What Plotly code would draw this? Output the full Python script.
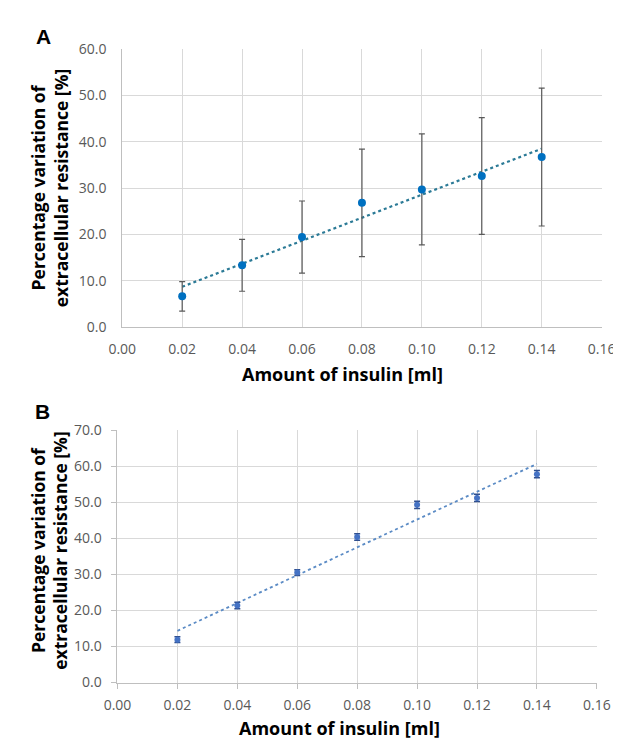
import numpy as np
import plotly.graph_objects as go

W, H = 621, 743

# ---- data ----
insulin_ml = [0.02, 0.04, 0.06, 0.08, 0.10, 0.12, 0.14]
variation_a = [6.6, 13.3, 19.4, 26.8, 29.7, 32.6, 36.7]
error_a = [3.2, 5.6, 7.8, 11.6, 12.0, 12.6, 14.9]
variation_b = [11.9, 21.4, 30.5, 40.4, 49.3, 51.2, 57.8]
error_b = [0.8, 0.9, 0.8, 0.9, 1.0, 1.0, 1.0]
x_ticks = [0.00, 0.02, 0.04, 0.06, 0.08, 0.10, 0.12, 0.14, 0.16]
y_ticks_a = [0, 10, 20, 30, 40, 50, 60]
y_ticks_b = [0, 10, 20, 30, 40, 50, 60, 70]
x_title = "Amount of insulin [ml]"
y_title = "Percentage variation of<br>extracellular resistance [%]"

# linear trendlines (least squares, like Excel)
xa = np.array(insulin_ml)
fit_a = np.polyfit(xa, variation_a, 1)
fit_b = np.polyfit(xa, variation_b, 1)
trend_x = [insulin_ml[0], insulin_ml[-1]]
trend_a = list(np.polyval(fit_a, trend_x))
trend_b = list(np.polyval(fit_b, trend_x))

fig = go.Figure()

# Panel A
fig.add_trace(go.Scatter(x=trend_x, y=trend_a, mode="lines", xaxis="x", yaxis="y",
                         line=dict(color="#2B7A96", width=2.2, dash="dot"), showlegend=False))
fig.add_trace(go.Scatter(x=insulin_ml, y=variation_a, mode="markers", xaxis="x", yaxis="y",
                         marker=dict(color="#0070C0", size=8),
                         error_y=dict(type="data", array=error_a, color="#595959", thickness=1.2, width=3),
                         showlegend=False))
# Panel B
fig.add_trace(go.Scatter(x=trend_x, y=trend_b, mode="lines", xaxis="x2", yaxis="y2",
                         line=dict(color="#5B8BC5", width=1.8, dash="dot"), showlegend=False))
fig.add_trace(go.Scatter(x=insulin_ml, y=variation_b, mode="markers", xaxis="x2", yaxis="y2",
                         marker=dict(color="#4472C4", size=6),
                         error_y=dict(type="data", array=error_b, color="#2F4F8F", thickness=1.5, width=3),
                         showlegend=False))

tickfont = dict(family="Open Sans", size=14, color="#595959")
grid = "#D9D9D9"

def px_x(p):
    return p / W

def px_y(p):
    return 1 - p / H

common_x = dict(range=[0, 0.16], tickvals=x_ticks, ticktext=[f"{v:.2f}" for v in x_ticks],
                showgrid=True, gridcolor=grid, gridwidth=1, zeroline=False,
                showline=True, linecolor="#BFBFBF", linewidth=1, tickfont=tickfont,
                fixedrange=True)

fig.update_layout(
    width=W, height=H,
    margin=dict(l=0, r=0, t=0, b=0),
    paper_bgcolor="white", plot_bgcolor="white",
    xaxis=dict(**common_x, domain=[px_x(105), px_x(607)], anchor="y",
               ticks="outside", ticklen=9, tickcolor="rgba(0,0,0,0)"),
    yaxis=dict(range=[0, 60], tickvals=y_ticks_a, ticktext=[f"{v:.1f}" for v in y_ticks_a],
               domain=[px_y(317), px_y(32)], anchor="x",
               showgrid=True, gridcolor=grid, zeroline=False, showline=True,
               linecolor="#BFBFBF", tickfont=tickfont,
               ticks="outside", ticklen=12, tickcolor="rgba(0,0,0,0)"),
    xaxis2=dict(**common_x, domain=[px_x(100), px_x(602)], anchor="y2",
                ticks="outside", ticklen=5, tickcolor="#BFBFBF", ticklabelstandoff=5),
    yaxis2=dict(range=[0, 70], tickvals=y_ticks_b, ticktext=[f"{v:.1f}" for v in y_ticks_b],
                domain=[px_y(682), px_y(423)], anchor="x2",
                showgrid=True, gridcolor=grid, zeroline=False, showline=True,
                linecolor="#BFBFBF", tickfont=tickfont,
                ticks="outside", ticklen=5, tickcolor="#BFBFBF", ticklabelstandoff=7),
)

title_font = dict(family="Open Sans", size=18, color="#000000")
ytitle_font = dict(family="Open Sans", size=17.5, color="#000000")
lab_font = dict(family="Liberation Sans", size=21, color="black")
annos = [
    dict(text="<b>A</b>", x=px_x(22), y=px_y(19), xanchor="center", yanchor="middle", font=lab_font),
    dict(text="<b>B</b>", x=px_x(21), y=px_y(404), xanchor="center", yanchor="middle", font=lab_font),
    dict(text=f"<b>{x_title}</b>", x=px_x(336), y=px_y(365), xanchor="center", yanchor="middle",
         font=title_font),
    dict(text=f"<b>{x_title}</b>", x=px_x(332), y=px_y(729), xanchor="center", yanchor="middle",
         font=title_font),
    dict(text=f"<b>{y_title}</b>", x=px_x(29), y=px_y(175), xanchor="center", yanchor="middle",
         textangle=-90, font=ytitle_font),
    dict(text=f"<b>{y_title}</b>", x=px_x(28), y=px_y(547), xanchor="center", yanchor="middle",
         textangle=-90, font=ytitle_font),
]
for a in annos:
    a.update(xref="paper", yref="paper", showarrow=False)
fig.update_layout(annotations=annos)

fig.write_html("out.html")
